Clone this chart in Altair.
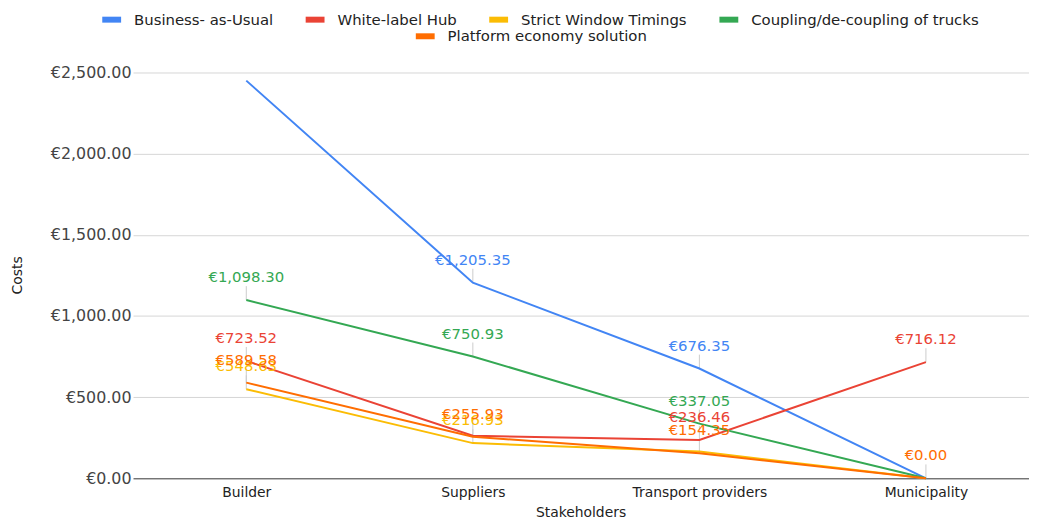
import altair as alt
import pandas as pd

categories = ["Builder", "Suppliers", "Transport providers", "Municipality"]
series = [
    "Business- as-Usual",
    "White-label Hub",
    "Strict Window Timings",
    "Coupling/de-coupling of trucks",
    "Platform economy solution",
]
colors = ["#4285F4", "#EA4335", "#FBBC04", "#34A853", "#FF6D01"]

bau = [2450.00, 1205.35, 676.35, 0.00]
white_label = [723.52, 262.00, 236.46, 716.12]
strict = [548.63, 216.93, 165.00, 0.00]
coupling = [1098.30, 750.93, 337.05, 0.00]
platform = [589.58, 255.93, 154.35, 0.00]

shown_bau = [False, True, True, False]
shown_white_label = [True, False, True, True]
shown_strict = [True, True, False, False]
shown_coupling = [True, True, True, False]
shown_platform = [True, True, True, True]

all_values = [bau, white_label, strict, coupling, platform]
all_shown = [shown_bau, shown_white_label, shown_strict, shown_coupling, shown_platform]

rows = []
for s, vals, shown in zip(series, all_values, all_shown):
    for i, (c, v, sh) in enumerate(zip(categories, vals, shown)):
        rows.append({
            "series": s,
            "stakeholder": c,
            "idx": i,
            "value": v,
            "labeled": sh,
            "label": "€" + f"{v:,.2f}",
        })
df = pd.DataFrame(rows)

FONT = "DejaVu Sans"

cat_expr = "[" + ", ".join('"' + c + '"' for c in categories) + "][datum.value]"

x_enc = alt.X(
    "idx:Q",
    scale=alt.Scale(domain=[-0.5, 3.455], nice=False, zero=False),
    axis=alt.Axis(
        title="Stakeholders",
        values=list(range(len(categories))),
        labelExpr=cat_expr,
        labelAngle=0,
        ticks=False,
        domain=False,
        grid=False,
        labelFontSize=14,
        labelFont=FONT,
        labelColor="#222222",
        labelPadding=7,
        labelFlush=False,
        labelOverlap=False,
        titleFontSize=14,
        titleFont=FONT,
        titleFontWeight="normal",
        titleColor="#222222",
        titleX=451,
        titleY=34,
        titleBaseline="middle",
        titleAlign="center",
    ),
)

y_enc = alt.Y(
    "value:Q",
    scale=alt.Scale(domain=[0, 2500], nice=False),
    axis=alt.Axis(
        title="Costs",
        values=[0, 500, 1000, 1500, 2000, 2500],
        labelExpr='"€" + format(datum.value, ",.2f")',
        ticks=False,
        domain=False,
        gridColor={"condition": {"test": "datum.value === 0", "value": "#333333"}, "value": "#d6d6d6"},
        labelFontSize=16,
        labelFont=FONT,
        labelColor="#444444",
        labelPadding=2,
        titleFontSize=14,
        titleFont=FONT,
        titleFontWeight="normal",
        titleColor="#222222",
        titleX=-116,
        titleY=204,
        titleBaseline="middle",
        titleAlign="center",
    ),
)

base = alt.Chart(df)

leaders = base.transform_filter("datum.labeled").mark_rule(
    color="#cccccc", strokeWidth=1, y2Offset=-14
).encode(x=x_enc, y=y_enc, y2=alt.Y2("value:Q"))

legend_common = dict(
    orient="none",
    direction="horizontal",
    title=None,
    symbolType="stroke",
    symbolStrokeWidth=6,
    symbolSize=361,
    labelFontSize=15,
    labelFont=FONT,
    labelColor="#222222",
    labelOffset=10,
    labelLimit=0,
    columnPadding=20,
    padding=0,
)

lines_main = base.transform_filter(
    alt.FieldOneOfPredicate(field="series", oneOf=series[:4])
).mark_line(strokeWidth=2).encode(
    x=x_enc,
    y=y_enc,
    order="idx:Q",
    color=alt.Color(
        "series:N",
        scale=alt.Scale(domain=series[:4], range=colors[:4]),
        legend=alt.Legend(legendX=-34, legendY=-66, **legend_common),
    ),
)

lines_last = base.transform_filter(
    alt.FieldOneOfPredicate(field="series", oneOf=series[4:])
).mark_line(strokeWidth=2).encode(
    x=x_enc,
    y=y_enc,
    order="idx:Q",
    stroke=alt.Stroke(
        "series:N",
        scale=alt.Scale(domain=series[4:], range=colors[4:]),
        legend=alt.Legend(legendX=282, legendY=-49, **legend_common),
    ),
)

labels = base.transform_filter("datum.labeled").mark_text(
    dy=-23, fontSize=15, font=FONT, align="center", baseline="middle"
).encode(
    x=x_enc,
    y=y_enc,
    text="label:N",
    fill=alt.Fill("series:N", scale=alt.Scale(domain=series, range=colors), legend=None),
)

chart = alt.layer(leaders, lines_main, lines_last, labels).properties(
    width=903,
    height=409,
    autosize=alt.AutoSizeParams(type="none"),
    padding={"left": 126, "top": 63, "right": 0, "bottom": 40},
    background="white",
).configure_view(stroke=None)

chart.save("out.html", embed_options={"renderer": "svg", "actions": False})
